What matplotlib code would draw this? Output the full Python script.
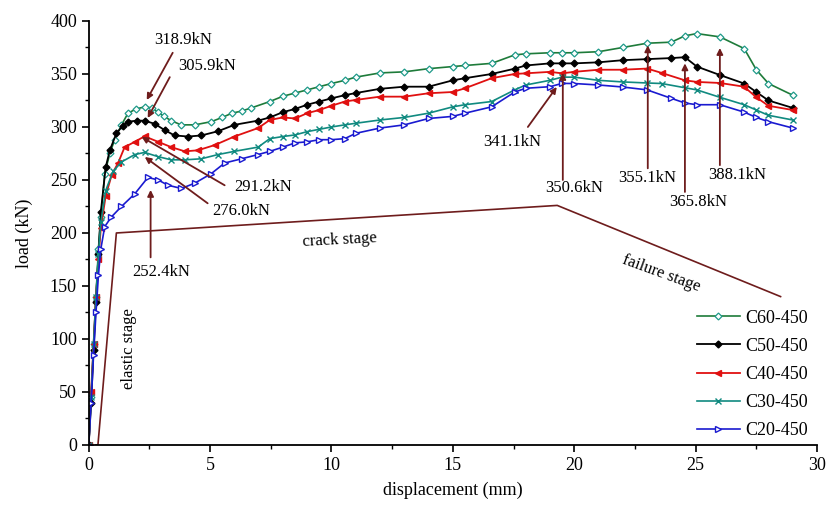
import matplotlib
matplotlib.use("Agg")
import matplotlib.pyplot as plt

plt.rcParams['font.family'] = ['Liberation Serif', 'DejaVu Serif']

# load-displacement curves
x_c60 = [0, 0.1, 0.2, 0.3, 0.4, 0.5, 0.66, 0.87, 1.07, 1.35, 1.62, 1.95, 2.3, 2.6, 2.85, 3.1, 3.4,
         3.8, 4.37, 5.05, 5.5, 5.9, 6.3, 6.7, 7.46, 8.0, 8.5, 9.0, 9.5, 10.0, 10.55, 11.0, 12.0, 13.0,
         14.0, 15.0, 15.5, 16.6, 17.55, 18.0, 19.0, 19.5, 20.0, 21.0, 22.0, 23.0, 24.0, 24.56, 25.05,
         26.0, 27.0, 27.5, 28.0, 29.0]
y_c60 = [0, 45, 95, 140, 185, 215, 256, 275, 288, 302, 313, 317, 318.9, 318, 314, 310, 306,
         302, 302, 305, 309, 313, 315, 318, 324, 329, 332, 335, 338, 341, 344, 347, 351, 352,
         355, 357, 358, 360, 368, 369, 370, 370, 370, 371, 375, 379, 380, 386, 388.1,
         385, 374, 354, 341, 330]

x_c50 = [0, 0.1, 0.2, 0.3, 0.4, 0.5, 0.7, 0.87, 1.14, 1.4, 1.62, 2.0, 2.3, 2.72, 3.13, 3.54, 4.1,
         4.64, 5.33, 6.0, 6.98, 7.46, 8.0, 8.5, 9.0, 9.5, 10.0, 10.55, 11.0, 12.0, 13.0, 14.0, 15.0,
         15.5, 16.6, 17.55, 18.0, 19.0, 19.5, 20.0, 21.0, 22.0, 23.0, 24.0, 24.56, 25.05, 26.0,
         27.0, 27.5, 28.0, 29.0]
y_c50 = [0, 40, 90, 135, 180, 220, 262, 278, 294, 301, 305, 306, 305.9, 303, 297, 292, 291,
         292, 296, 302, 306, 309, 314, 317, 321, 324, 327, 330, 332, 336, 338, 338, 344,
         346, 350, 355, 358, 360, 360, 360, 361, 363, 364, 365, 365.8, 357, 349,
         341, 333, 325, 318]

x_c40 = [0, 0.1, 0.2, 0.3, 0.4, 0.5, 0.7, 0.95, 1.21, 1.48, 1.9, 2.3, 2.86, 3.4, 3.96, 4.5, 5.2,
         6.0, 6.98, 7.46, 8.0, 8.5, 9.0, 9.5, 10.0, 10.55, 11.0, 12.0, 13.0, 14.0, 15.0, 15.5, 16.6,
         17.55, 18.0, 19.0, 19.5, 20.0, 21.0, 22.0, 23.0, 23.6, 24.56, 25.05, 26.0, 27.0, 27.5,
         28.0, 29.0]
y_c40 = [0, 50, 95, 140, 175, 205, 235, 255, 266, 281, 286, 291.2, 286, 281, 277, 278, 283,
         291, 299, 306.6, 309, 308, 313, 316, 320, 324, 325.5, 328.6, 328.6, 331.8, 333, 336.5, 346,
         350, 350.6, 352, 350.6, 352, 354, 354, 355.1, 351, 344, 342.5, 341.5, 338, 328,
         320, 316]

x_c30 = [0, 0.1, 0.2, 0.3, 0.4, 0.5, 0.7, 1.0, 1.35, 1.9, 2.3, 2.86, 3.4, 3.96, 4.64, 5.33, 6.0,
         6.98, 7.46, 8.0, 8.5, 9.0, 9.5, 10.0, 10.55, 11.0, 12.0, 13.0, 14.0, 15.0, 15.5, 16.6,
         17.55, 18.0, 19.0, 19.5, 20.0, 21.0, 22.0, 23.0, 23.6, 24.56, 25.05, 26.0, 27.0, 27.5,
         28.0, 29.0]
y_c30 = [0, 45, 95, 140, 180, 210, 240, 258, 267, 274, 276.0, 272, 269, 269, 270, 274, 277,
         281, 289, 291, 292.5, 295.6, 297.8, 300, 302, 303.5, 306.6, 309, 313, 319, 321, 324,
         335, 339.6, 344, 347, 347, 344, 342.5, 341.5, 341, 337, 335, 328, 321, 316,
         311, 306.6]

x_c20 = [0, 0.1, 0.2, 0.3, 0.4, 0.5, 0.66, 0.93, 1.35, 1.9, 2.44, 2.86, 3.27, 3.82, 4.37, 5.05,
         5.6, 6.3, 6.98, 7.46, 8.0, 8.5, 9.0, 9.5, 10.0, 10.55, 11.0, 12.0, 13.0, 14.0, 15.0, 15.5,
         16.6, 17.55, 18.0, 19.0, 19.5, 20.0, 21.0, 22.0, 23.0, 24.0, 24.56, 25.05, 26.0, 27.0,
         27.5, 28.0, 29.0]
y_c20 = [0, 40, 85, 125, 160, 185, 206, 215, 225, 237, 252.4, 250, 245, 242, 247, 256,
         266, 270, 274, 277, 281, 285, 286, 288, 288, 289, 294, 299, 302, 308, 310, 313,
         319, 333, 336.5, 338, 341.1, 341, 339.6, 337.7, 335, 327, 322.6, 321, 321, 314,
         309, 305, 299]

# stage outline (elastic -> crack -> failure)
stage_x = [0.3, 0.38, 1.14, 19.3, 28.5]
stage_y = [0, 0, 200, 226, 140]

# peak labels: text, text position, arrow tail, arrow tip
peak_labels = ["318.9kN", "305.9kN", "291.2kN", "276.0kN", "252.4kN",
               "341.1kN", "350.6kN", "355.1kN", "365.8kN", "388.1kN"]
label_pos = [(3.9, 382), (4.86, 357.5), (7.17, 243.4), (6.3, 220.8), (3.0, 163),
             (17.43, 285.8), (20.0, 242.5), (23.0, 252), (25.1, 229), (26.7, 254.7)]
tail_pos = [(3.46, 370), (3.34, 347), (5.6, 245), (4.9, 228), (2.55, 177),
            (18.09, 300), (19.53, 250), (23.03, 261), (24.56, 238.7), (26.0, 264)]
tip_pos = [(2.39, 325.5), (2.43, 308.5), (2.18, 290.6), (2.31, 271.7), (2.55, 240.6),
           (19.28, 337.7), (19.53, 351), (23.03, 377), (24.56, 360), (26.0, 374.5)]

fig = plt.figure(figsize=(8.29, 5.19), dpi=100)
ax = fig.add_axes([0.107, 0.1426, 0.8785, 0.817])

dark = "#6e1c1c"
ax.plot(stage_x, stage_y, color=dark, lw=1.2)

ax.plot(x_c60, y_c60, color="#1e7b3a", lw=1.2, marker="D", ms=3.5, mfc="white",
        mec="#1f9a8a", mew=0.9, label="C60-450")
ax.plot(x_c50, y_c50, color="black", lw=1.3, marker="D", ms=3.5, label="C50-450")
ax.plot(x_c40, y_c40, color="#e01010", lw=1.3, marker="<", ms=5, label="C40-450")
ax.plot(x_c30, y_c30, color="#108a80", lw=1.2, marker="x", ms=4.5, mew=1.0, label="C30-450")
ax.plot(x_c20, y_c20, color="#1a1ad0", lw=1.2, marker=">", ms=4.5, mfc="white",
        mew=1.0, label="C20-450")

for txt, p, t, h in zip(peak_labels, label_pos, tail_pos, tip_pos):
    ax.text(p[0], p[1], txt, fontsize=12, ha="center", va="center")
    ax.annotate("", xy=h, xytext=t,
                arrowprops=dict(arrowstyle="-|>", color=dark, lw=1.3,
                                mutation_scale=9, shrinkA=0, shrinkB=0))

ax.text(1.67, 91, "elastic stage", rotation=90, fontsize=12, ha="center", va="center")
ax.text(10.34, 193, "crack stage", rotation=3, fontsize=12, ha="center", va="center")
ax.text(23.6, 162, "failure stage", rotation=-20, fontsize=12, ha="center", va="center")

ax.set_xlim(0, 30)
ax.set_ylim(0, 400)
ax.set_xticks(range(0, 31, 5))
ax.set_xticks([i * 2.5 for i in range(13)], minor=True)
ax.set_yticks(range(0, 401, 50))
ax.set_yticks(range(0, 401, 25), minor=True)
ax.tick_params(labelsize=13, width=1.2, length=5)
ax.tick_params(which="minor", width=1.0, length=3)
ax.spines["top"].set_visible(False)
ax.spines["right"].set_visible(False)
ax.spines["left"].set_linewidth(1.3)
ax.spines["bottom"].set_linewidth(1.3)
ax.set_xlabel("displacement (mm)", fontsize=13, labelpad=6)
ax.set_ylabel("load (kN)", fontsize=13, labelpad=12)

ax.legend(loc="lower right", bbox_to_anchor=(1.01, -0.025), frameon=False, fontsize=13,
          handlelength=2.4, handletextpad=0.3, labelspacing=0.62)

fig.savefig("out.png", dpi=100)
